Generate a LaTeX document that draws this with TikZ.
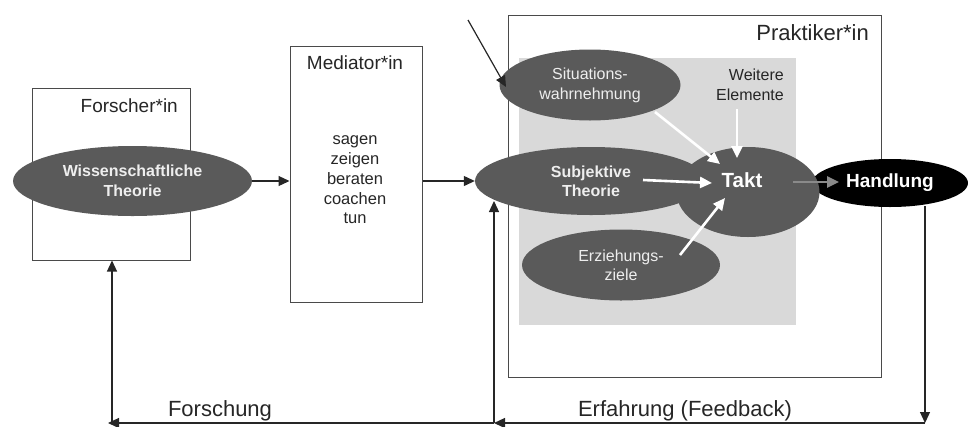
\documentclass[tikz,border=0pt]{standalone}
\usepackage{fontspec}
\setmainfont{Liberation Sans}
\usetikzlibrary{arrows.meta,shapes.geometric}
\definecolor{ellgray}{HTML}{5A5A5A}
\definecolor{panel}{HTML}{D9D9D9}
\definecolor{boxline}{HTML}{4A4A4A}
\definecolor{txt}{HTML}{262626}
\definecolor{ltxt}{HTML}{EEEEEE}
\definecolor{grayarrow}{HTML}{8A8A8A}
\tikzset{
  boxnode/.style={draw=boxline,line width=1pt,inner sep=0pt,fill=white},
  ell/.style={ellipse,fill=ellgray,inner sep=0pt,text=ltxt,align=center},
  title/.style={text=txt,inner sep=0pt},
  arr/.style={draw=black!85,line width=1.2pt,-{Triangle[length=11pt,width=10pt]}},
  warr/.style={draw=white,line width=2.6pt,-{Triangle[length=12pt,width=11pt]}},
  garr/.style={draw=grayarrow,line width=2.6pt,-{Triangle[length=12pt,width=11pt]}},
}
\begin{document}
\begin{tikzpicture}[x=1pt,y=-1pt]
\useasboundingbox (0,0) rectangle (968,426);
% Forscher box
\node[boxnode,minimum width=158pt,minimum height=172pt] (fbox) at (111,174) {};
\node[title,anchor=east,font=\fontsize{19}{22}\selectfont] (flabel) at (178,106) {Forscher*in};
\node[ell,minimum width=239pt,minimum height=70pt,font=\bfseries\fontsize{16}{20}\selectfont,text=ltxt] (wiss) at (132.5,181) {Wissenschaftliche\\Theorie};
% Mediator box
\node[boxnode,minimum width=132pt,minimum height=256pt] (mbox) at (356,174) {};
\node[title,font=\fontsize{19}{22}\selectfont] (mlabel) at (355,63) {Mediator*in};
\node[title,align=center,font=\fontsize{16.5}{19.75}\selectfont] (mlist) at (355,180) {sagen\\zeigen\\beraten\\coachen\\tun};
% Praktiker box
\node[boxnode,minimum width=373pt,minimum height=362pt] (pbox) at (694.5,196) {};
\node[title,anchor=east,font=\fontsize{22}{26}\selectfont] (plabel) at (869,33) {Praktiker*in};
\fill[panel] (519,58) rectangle (796,325);
\node[title,anchor=east,align=right,font=\fontsize{16}{20}\selectfont] (weit) at (784,85) {Weitere\\Elemente};
% ellipses
\node[ell,minimum width=181pt,minimum height=71pt,font=\fontsize{16}{20}\selectfont] (sit) at (590,85) {Situations-\\wahrnehmung};
\node[ell,minimum width=232pt,minimum height=68pt,font=\bfseries\fontsize{16}{19}\selectfont] (subj) at (591,181) {Subjektive\\Theorie};
\node[ell,minimum width=198pt,minimum height=71pt,font=\fontsize{16}{19}\selectfont] (erz) at (621,265) {Erziehungs-\\ziele};
\node[ellipse,fill=black,inner sep=0pt,minimum width=156pt,minimum height=48pt,text=white,font=\bfseries\fontsize{19}{22}\selectfont] (hand) at (890,183) {Handlung};
\node[ellipse,fill=ellgray,inner sep=0pt,minimum width=143pt,minimum height=90pt] (takt) at (748,192) {};
\node[text=white,inner sep=0pt,font=\bfseries\fontsize{20.5}{24}\selectfont] (takttext) at (742,180) {Takt};
% white arrows into Takt
\coordinate (s1) at (655,112); \coordinate (t1) at (720,164);
\coordinate (s2) at (737,109); \coordinate (t2) at (737,158);
\coordinate (s3) at (643,180); \coordinate (t3) at (712,183);
\coordinate (s4) at (680,255); \coordinate (t4) at (725,198);
\draw[warr] (s1) -- (t1);
\draw[warr] (s2) -- (t2);
\draw[warr] (s3) -- (t3);
\draw[warr] (s4) -- (t4);
% gray arrow Takt -> Handlung
\coordinate (g1) at (793,182); \coordinate (g2) at (839,182);
\draw[garr] (g1) -- (g2);
% black arrows
\draw[arr] (wiss.east) -- (mbox.west |- wiss.east);
\draw[arr] (mbox.east |- subj.west) -- (subj.west);
\coordinate (d0) at (468,20); \coordinate (d1) at (506,87);
\draw[arr] (d0) -- (d1);
% feedback loop
\coordinate (hdown) at (925,206);
\coordinate (br) at (925,423);
\coordinate (bm) at (494,423);
\coordinate (bl) at (108,423);
\coordinate (blv) at (112,423);
\coordinate (subjb) at (494,201);
\draw[arr] (hdown) -- (br);
\draw[arr] (br) -- (bm);
\draw[arr] (bm) -- (subjb);
\draw[arr] (bm) -- (bl);
\draw[arr] (blv) -- (blv |- fbox.south);
\node[title,font=\fontsize{22}{26}\selectfont] (forsch) at (220,411) {Forschung};
\node[title,font=\fontsize{22}{26}\selectfont] (erf) at (685,411) {Erfahrung (Feedback)};
\end{tikzpicture}
\end{document}
